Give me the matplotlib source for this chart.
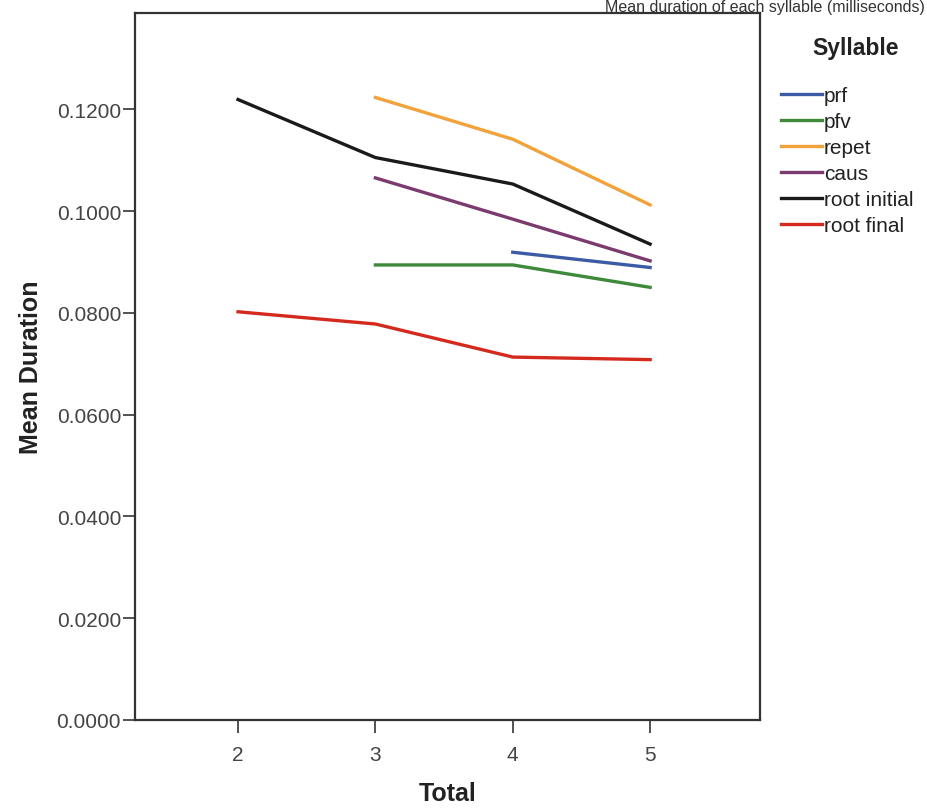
import matplotlib
matplotlib.use("Agg")
import matplotlib.pyplot as plt
import numpy as np

plt.rcParams['font.family'] = ['Liberation Sans', 'DejaVu Sans']

totals = [2, 3, 4, 5]
series_names = ["prf", "pfv", "repet", "caus", "root initial", "root final"]
prf = [np.nan, np.nan, 0.0919, 0.0889]
pfv = [np.nan, 0.0894, 0.0894, 0.0850]
repet = [np.nan, 0.1223, 0.1141, 0.1012]
caus = [np.nan, 0.1065, 0.0984, 0.0902]
root_initial = [0.1219, 0.1105, 0.1053, 0.0935]
root_final = [0.0802, 0.0778, 0.0713, 0.0708]
y_ticks = [0.0, 0.02, 0.04, 0.06, 0.08, 0.10, 0.12]

colors = ["#3b5ba5", "#3e8a3a", "#f2a23a", "#7b3b6e", "#1a1a1a", "#d42a1e"]
values = [prf, pfv, repet, caus, root_initial, root_final]

fig = plt.figure(figsize=(9.27, 8.12), dpi=100)
ax = fig.add_axes([135/927, 1-721/812, (760-135)/927, (721-14)/812])

for name, vals, c in zip(series_names, values, colors):
    ax.plot(totals, vals, color=c, lw=2.4, label=name)

ax.set_xlim(1.25, 5.80)
ax.set_ylim(0, 0.1389)
ax.set_xticks(totals)
ax.set_xticklabels([str(t) for t in totals])
ax.set_yticks(y_ticks)
ax.set_yticklabels([f"{v:.4f}" for v in y_ticks])
for s in ax.spines.values():
    s.set_color("#333333")
    s.set_linewidth(1.6)
ax.tick_params(axis='both', direction='out', length=9, width=1.3, color="#444444",
               labelsize=15, labelcolor="#444444", pad=1)
ax.tick_params(axis='x', pad=9)
ax.set_xlabel("Total", fontsize=18, fontweight='bold', color="#222222", labelpad=12)
ax.set_ylabel("Mean Duration", fontsize=18, fontweight='bold', color="#222222", labelpad=10)

fig.text(856/927, 1-48/812, "Syllable", ha='center', va='center', fontsize=16.5,
         fontweight='bold', color="#222222")
leg = fig.legend(loc='upper left', bbox_to_anchor=(781/927, 1-87/812), frameon=False,
                 fontsize=15, handlelength=1.95, handletextpad=0.1,
                 labelspacing=0.34, borderaxespad=0, borderpad=0)
for t in leg.get_texts():
    t.set_color("#222222")

fig.text(925/927, 1-0/812, "Mean duration of each syllable (milliseconds)", ha='right', va='top',
         fontsize=11.5, color="#333333", transform=fig.transFigure)

fig.savefig("out.png", dpi=100)
